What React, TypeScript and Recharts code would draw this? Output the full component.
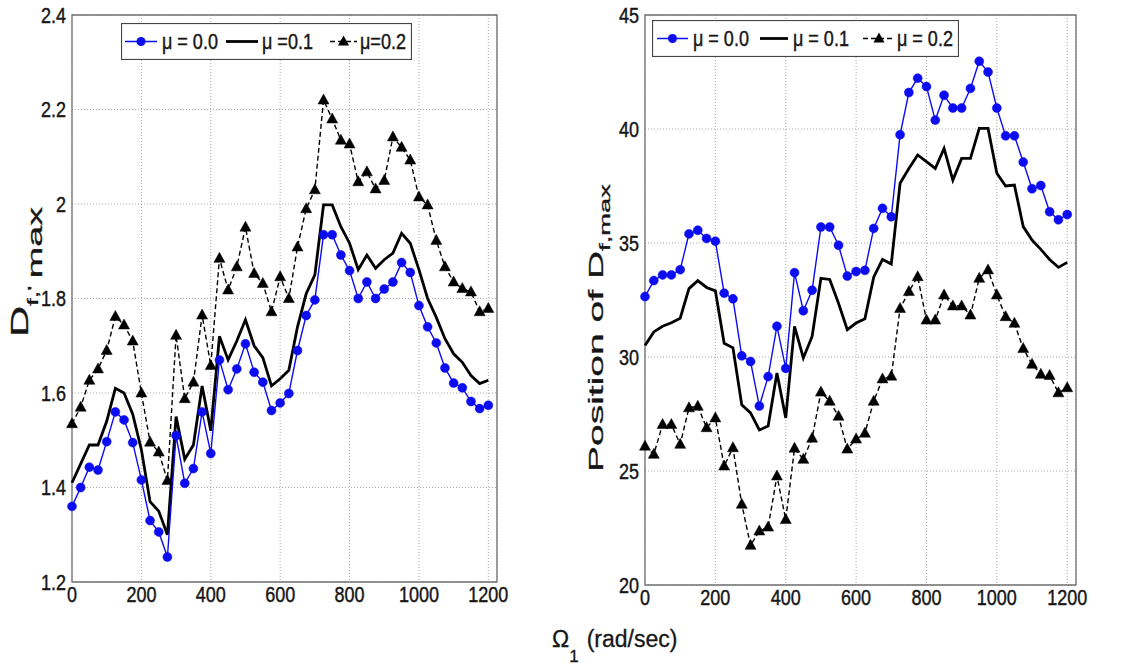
import React from 'react';
import { LineChart, Line, XAxis, YAxis, CartesianGrid, ReferenceArea, Legend } from 'recharts';

// rotor speed Omega_1 (rad/sec)
const omega = [
  0, 25, 50, 75, 100, 125, 150, 175, 200, 225, 250, 275, 300, 325, 350, 375, 400,
  425, 450, 475, 500, 525, 550, 575, 600, 625, 650, 675, 700, 725, 750, 775, 800,
  825, 850, 875, 900, 925, 950, 975, 1000, 1025, 1050, 1075, 1100, 1125, 1150, 1175, 1200,
];

// D_f,max (left panel)
const dfMaxMu00 = [
  1.36, 1.4, 1.443, 1.437, 1.497, 1.56, 1.543, 1.495, 1.416, 1.33, 1.306, 1.253, 1.51, 1.409, 1.44, 1.56, 1.472,
  1.67, 1.607, 1.651, 1.704, 1.644, 1.623, 1.563, 1.579, 1.599, 1.69, 1.764, 1.797, 1.935, 1.935, 1.892, 1.859,
  1.8, 1.835, 1.8, 1.82, 1.835, 1.876, 1.855, 1.785, 1.74, 1.706, 1.653, 1.621, 1.611, 1.582, 1.567, 1.574,
];
const dfMaxMu01 = [
  1.41, 1.45, 1.49, 1.49, 1.54, 1.61, 1.6, 1.555, 1.48, 1.37, 1.35, 1.3, 1.55, 1.46, 1.49, 1.615, 1.52,
  1.72, 1.67, 1.71, 1.755, 1.7, 1.675, 1.615, 1.63, 1.648, 1.74, 1.81, 1.85, 1.998, 1.998, 1.952, 1.917,
  1.861, 1.892, 1.864, 1.882, 1.896, 1.938, 1.917, 1.861, 1.8, 1.76, 1.715, 1.683, 1.665, 1.637, 1.62, 1.627,
];
const dfMaxMu02 = [
  1.535, 1.57, 1.627, 1.651, 1.69, 1.762, 1.744, 1.71, 1.6, 1.496, 1.475, 1.415, 1.722, 1.588, 1.623, 1.765, 1.658,
  1.885, 1.818, 1.867, 1.951, 1.853, 1.832, 1.772, 1.846, 1.8, 1.909, 1.99, 2.03, 2.22, 2.18, 2.135, 2.127,
  2.047, 2.068, 2.032, 2.05, 2.142, 2.12, 2.093, 2.015, 1.998, 1.923, 1.867, 1.835, 1.821, 1.814, 1.772, 1.779,
];

// position of D_f,max (right panel)
const posMu00 = [
  32.65, 33.35, 33.6, 33.6, 33.83, 35.4, 35.56, 35.2, 35.08, 32.8, 32.55, 30.05, 29.8, 27.85, 29.14, 31.35, 29.5,
  33.7, 32.03, 32.93, 35.7, 35.7, 34.9, 33.55, 33.75, 33.8, 35.64, 36.52, 36.15, 39.75, 41.6, 42.23, 41.86,
  40.39, 41.48, 40.92, 40.92, 41.78, 42.97, 42.5, 40.92, 39.7, 39.7, 38.55, 37.38, 37.52, 36.37, 36.02, 36.25,
];
const posMu01 = [
  30.5, 31.1, 31.35, 31.5, 31.7, 33.0, 33.35, 33.05, 32.9, 30.6, 30.4, 27.9, 27.55, 26.8, 26.97, 29.3, 27.33,
  31.34, 29.96, 30.9, 33.45, 33.4, 32.36, 31.2, 31.49, 31.68, 33.5, 34.28, 34.08, 37.62, 38.27, 38.86, 38.57,
  38.27, 39.15, 37.76, 38.71, 38.71, 40.03, 40.03, 38.06, 37.5, 37.54, 35.72, 35.13, 34.72, 34.28, 33.93, 34.15,
];
const posMu02 = [
  26.09, 25.73, 27.04, 27.04, 26.17, 27.77, 27.84, 26.9, 27.33, 25.22, 26.02, 23.54, 21.74, 22.37, 22.54, 24.78, 22.87,
  26.0, 25.51, 26.44, 28.46, 28.06, 27.4, 25.96, 26.4, 26.66, 28.06, 29.04, 29.16, 32.13, 32.87, 33.52, 31.62,
  31.62, 32.72, 32.24, 32.24, 31.84, 33.45, 33.82, 32.72, 31.77, 31.48, 30.37, 29.68, 29.24, 29.19, 28.43, 28.65,
];

const xTicks = [0, 200, 400, 600, 800, 1000, 1200];
const dfTicks = [1.2, 1.4, 1.6, 1.8, 2, 2.2, 2.4];
const posTicks = [20, 25, 30, 35, 40, 45];
const leftLegendLabels = ['μ = 0.0', 'μ =0.1', 'μ=0.2'];
const rightLegendLabels = ['μ = 0.0', 'μ = 0.1', 'μ = 0.2'];

const FONT = '"Liberation Sans", Arial, Helvetica, sans-serif';
const BLUE = '#0c0cf0';
const INK = '#161616';
const X_MAX = 1225;

const makeRows = (a: number[], b: number[], c: number[]) =>
  omega.map((x, i) => ({ x, mu0: a[i], mu1: b[i], mu2: c[i] }));

const leftRows = makeRows(dfMaxMu00, dfMaxMu01, dfMaxMu02);
const rightRows = makeRows(posMu00, posMu01, posMu02);

const triPath = (cx: number, cy: number, s = 1) =>
  `M${cx},${cy - 6 * s} L${cx + 5.5 * s},${cy + 4 * s} L${cx - 5.5 * s},${cy + 4 * s} Z`;

const TriangleDot = (p: any) => {
  if (p.cx == null || p.cy == null) return <g key={`t-${p.index}`} />;
  return <path key={`t-${p.index}`} d={triPath(p.cx, p.cy)} fill="#000" stroke="#000" strokeWidth={0.5} />;
};

const XTick = ({ x, y, payload }: any) => (
  <g transform={`translate(${x},${y}) scale(1,1.25)`}>
    <text x={0} y={11} textAnchor="middle" fontSize={18} fontFamily={FONT} fill={INK} stroke={INK} strokeWidth={0.35}>
      {payload.value}
    </text>
  </g>
);

const YTick = ({ x, y, payload }: any) => (
  <g transform={`translate(${x},${y}) scale(1,1.25)`}>
    <text x={0} y={6} textAnchor="end" fontSize={18} fontFamily={FONT} fill={INK} stroke={INK} strokeWidth={0.35}>
      {payload.value}
    </text>
  </g>
);

// legend drawn as a boxed row, matlab style
const LegendBox = ({ labels, width, slots }: any) => {
  const h = 37;
  const cy = 18.5;
  return (
    <svg width={width} height={h} style={{ display: 'block' }}>
      <rect x={0.5} y={0.5} width={width - 1} height={h - 1} fill="#fff" stroke="#444" strokeWidth={1.2} />
      {/* mu = 0.0 */}
      <line x1={slots[0][0]} x2={slots[0][1]} y1={cy} y2={cy} stroke={BLUE} strokeWidth={1.5} />
      <circle cx={(slots[0][0] + slots[0][1]) / 2} cy={cy} r={4.5} fill={BLUE} />
      {/* mu = 0.1 */}
      <line x1={slots[1][0]} x2={slots[1][1]} y1={cy} y2={cy} stroke="#000" strokeWidth={2.8} />
      {/* mu = 0.2 */}
      <line x1={slots[2][0]} x2={slots[2][1]} y1={cy} y2={cy} stroke="#000" strokeWidth={1.5} strokeDasharray="5 3" />
      <path d={triPath((slots[2][0] + slots[2][1]) / 2, cy)} fill="#000" />
      {labels.map((t: string, i: number) => (
        <g key={t + i} transform={`translate(${slots[i][2]},${cy}) scale(1,1.2)`}>
          <text x={0} y={6.5} fontSize={18} fontFamily={FONT} fill={INK} stroke={INK} strokeWidth={0.35}>
            {t}
          </text>
        </g>
      ))}
    </svg>
  );
};

const Panel = ({ rows, domain, ticks, yAxisWidth, chartW, chartH, margin, legend }: any) => (
  <LineChart width={chartW} height={chartH} data={rows} margin={margin}>
    <CartesianGrid stroke="#a8a8a8" strokeDasharray="1 2" />
    <XAxis
      dataKey="x"
      type="number"
      domain={[0, X_MAX]}
      ticks={xTicks}
      interval={0}
      axisLine={false}
      tickLine={false}
      tickSize={4}
      height={35}
      tick={<XTick />}
    />
    <YAxis
      type="number"
      domain={domain}
      ticks={ticks}
      interval={0}
      axisLine={false}
      tickLine={false}
      tickSize={4}
      width={yAxisWidth}
      tick={<YTick />}
    />
    <ReferenceArea
      x1={0}
      x2={X_MAX}
      y1={domain[0]}
      y2={domain[1]}
      fill="none"
      stroke="#707070"
      strokeWidth={1.3}
      ifOverflow="visible"
    />
    <Line
      dataKey="mu2"
      stroke="#000"
      strokeWidth={1.4}
      strokeDasharray="5 3"
      dot={TriangleDot}
      activeDot={false}
      isAnimationActive={false}
    />
    <Line
      dataKey="mu1"
      stroke="#000"
      strokeWidth={2.8}
      dot={false}
      activeDot={false}
      isAnimationActive={false}
    />
    <Line
      dataKey="mu0"
      stroke={BLUE}
      strokeWidth={1.4}
      dot={{ r: 4.5, fill: BLUE, stroke: BLUE, strokeWidth: 0.5 }}
      activeDot={false}
      isAnimationActive={false}
    />
    <Legend
      layout="horizontal"
      verticalAlign="middle"
      align="center"
      wrapperStyle={{ left: legend.left, top: legend.top, width: legend.width, height: 37 }}
      content={() => <LegendBox labels={legend.labels} width={legend.width} slots={legend.slots} />}
    />
  </LineChart>
);

export default function App() {
  return (
    <div style={{ position: 'absolute', left: 0, top: 0, width: 1138, height: 669, background: '#fff' }}>
      <div style={{ position: 'absolute', left: 0, top: 0 }}>
        <Panel
          rows={leftRows}
          domain={[1.2, 2.4]}
          ticks={dfTicks}
          yAxisWidth={72}
          chartW={510}
          chartH={617}
          margin={{ top: 15, right: 13, bottom: 0, left: 0 }}
          legend={{
            left: 121,
            top: 23,
            width: 291,
            labels: leftLegendLabels,
            slots: [
              [4, 36, 41],
              [105, 137, 141],
              [209, 236, 239],
            ],
          }}
        />
      </div>
      <div style={{ position: 'absolute', left: 570, top: 0 }}>
        <Panel
          rows={rightRows}
          domain={[20, 45]}
          ticks={posTicks}
          yAxisWidth={75}
          chartW={520}
          chartH={620}
          margin={{ top: 15, right: 14, bottom: 0, left: 0 }}
          legend={{
            left: 82,
            top: 20,
            width: 307,
            labels: rightLegendLabels,
            slots: [
              [5, 36, 41],
              [108, 136, 141],
              [211, 243, 245],
            ],
          }}
        />
      </div>
      <svg
        width={1138}
        height={669}
        style={{ position: 'absolute', left: 0, top: 0, pointerEvents: 'none' }}
      >
        <text
          transform="translate(28,337) rotate(-90) scale(1.8,1)"
          fontFamily={FONT}
          fontSize={24}
          fill={INK}
          stroke={INK}
          strokeWidth={0.3}
        >
          D
          <tspan fontSize={15} dy={10}>
            {"f,' "}
          </tspan>
          <tspan fontSize={21} dy={4}>
            max
          </tspan>
        </text>
        <text
          transform="translate(603,472) rotate(-90) scale(1.95,1)"
          fontFamily={FONT}
          fontSize={20}
          fill={INK}
          stroke={INK}
          strokeWidth={0.3}
        >
          Position of D
          <tspan fontSize={14} dy={7}>
            f,max
          </tspan>
        </text>
        <text x={552} y={647} fontFamily={FONT} fontSize={23} fill={INK} stroke={INK} strokeWidth={0.3}>
          Ω
          <tspan fontSize={17} dy={15}>
            1
          </tspan>
          <tspan dy={-15} dx={8}>
            (rad/sec)
          </tspan>
        </text>
      </svg>
    </div>
  );
}
